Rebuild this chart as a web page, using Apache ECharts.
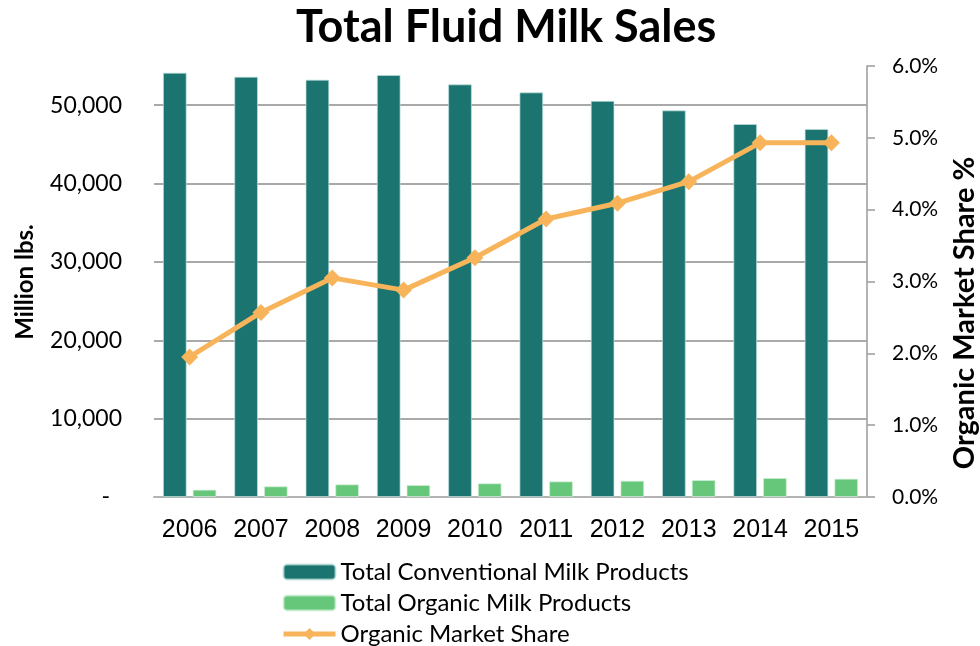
<!DOCTYPE html>
<html>
<head>
<meta charset="utf-8">
<script src="https://cdn.jsdelivr.net/npm/echarts@6/dist/echarts.min.js"></script>
<style>html,body{margin:0;padding:0;background:#fff}#c{width:980px;height:646px}</style>
</head>
<body>
<div id="c"></div>
<script>
const years = ['2006','2007','2008','2009','2010','2011','2012','2013','2014','2015'];
const conventional = [54150, 53640, 53260, 53860, 52660, 51640, 50550, 49340, 47600, 46960];
const organic = [940, 1370, 1620, 1530, 1750, 2000, 2080, 2170, 2430, 2340];
const marketShare = [1.95, 2.57, 3.05, 2.88, 3.33, 3.87, 4.09, 4.39, 4.93, 4.93];
const leftTicks = [0, 10000, 20000, 30000, 40000, 50000];
const rightTicks = [0, 1, 2, 3, 4, 5, 6];

const chart = echarts.init(document.getElementById('c'));
const labelFont = 'Lato, "Open Sans", sans-serif';
chart.setOption({
  animation: false,
  title: {
    text: 'Total Fluid Milk Sales',
    left: 291,
    top: 0,
    textStyle: { fontFamily: labelFont, fontWeight: 'bold', fontSize: 45, color: '#000' }
  },
  grid: { left: 154, right: 113, top: 66, bottom: 149 },
  legend: {
    orient: 'vertical',
    left: 281,
    top: 560,
    height: 100,
    padding: 0,
    itemWidth: 52,
    itemHeight: 15,
    itemGap: 7,
    lineStyle: { width: 5 },
    textStyle: { fontFamily: labelFont, fontSize: 24, lineHeight: 24, color: '#000' },
    data: ['Total Conventional Milk Products', 'Total Organic Milk Products', 'Organic Market Share']
  },
  xAxis: {
    type: 'category',
    data: years,
    axisTick: { show: false },
    axisLine: { show: true, lineStyle: { color: '#b3b3b3', width: 2 } },
    axisLabel: { interval: 0, fontFamily: '"Liberation Sans", Arial, sans-serif', fontSize: 25, color: '#000', margin: 21 }
  },
  yAxis: [
    {
      type: 'value',
      min: leftTicks[0],
      max: 55000,
      interval: leftTicks[1] - leftTicks[0],
      axisLine: { show: false },
      axisTick: { show: false },
      splitLine: { show: true, showMaxLine: false, lineStyle: { color: '#8c8c8c', width: 1.7 } },
      axisLabel: {
        margin: 32,
        fontFamily: labelFont, fontSize: 23, color: '#000',
        showMaxLabel: false,
        formatter: function (v) { return v === 0 ? '{d|-}' : v.toLocaleString('en-US'); },
        rich: { d: { fontFamily: labelFont, fontSize: 23, color: '#000', padding: [0, 12, 0, 0] } }
      }
    },
    {
      type: 'value',
      min: rightTicks[0],
      max: rightTicks[rightTicks.length - 1],
      interval: rightTicks[1] - rightTicks[0],
      position: 'right',
      axisLine: { show: true, lineStyle: { color: '#a6a6a6', width: 1.7 } },
      axisTick: { show: true, length: 8, lineStyle: { color: '#a6a6a6', width: 1.7 } },
      splitLine: { show: false },
      axisLabel: {
        margin: 25,
        fontFamily: labelFont, fontSize: 21, color: '#000',
        formatter: function (v) { return v.toFixed(1) + '%'; }
      }
    }
  ],
  graphic: [
    {
      type: 'text', x: 25, y: 282, rotation: Math.PI / 2,
      style: { text: 'Million lbs.', fontFamily: labelFont, fontWeight: 'bold', fontSize: 24, fill: '#000', align: 'center', verticalAlign: 'middle' }
    },
    {
      type: 'text', x: 965, y: 313, rotation: Math.PI / 2,
      style: { text: 'Organic Market Share %', fontFamily: labelFont, fontWeight: 'bold', fontSize: 29, fill: '#000', align: 'center', verticalAlign: 'middle' }
    }
  ],
  series: [
    {
      name: 'Total Conventional Milk Products',
      type: 'bar',
      data: conventional,
      barGap: '25%',
      barCategoryGap: '25%',
      itemStyle: { color: '#1b7470', borderColor: 'rgba(190,225,222,0.7)', borderWidth: 1 }
    },
    {
      name: 'Total Organic Milk Products',
      type: 'bar',
      data: organic,
      itemStyle: { color: '#66c77a', borderColor: 'rgba(210,240,215,0.7)', borderWidth: 1 }
    },
    {
      name: 'Organic Market Share',
      type: 'line',
      yAxisIndex: 1,
      data: marketShare,
      symbol: 'diamond',
      symbolSize: 17,
      lineStyle: { color: '#f7b45a', width: 5 },
      itemStyle: { color: '#f7b45a' },
      z: 5
    }
  ]
});
</script>
</body>
</html>
